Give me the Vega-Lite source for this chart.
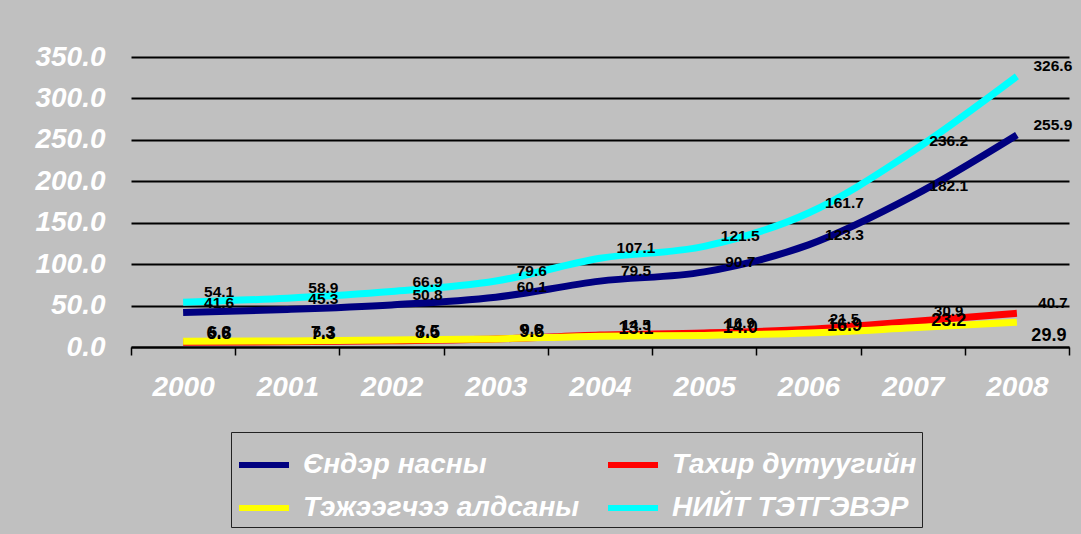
{
  "$schema": "https://vega.github.io/schema/vega-lite/v6.json",
  "width": 938,
  "height": 290,
  "autosize": {"type": "none"},
  "padding": {"left": 131, "top": 57, "right": 12, "bottom": 187},
  "background": "#C0C0C0",
  "config": {
    "view": {"stroke": null},
    "font": "Liberation Sans"
  },
  "data": {
    "values": [
      {"year": "2000", "series": "Єндэр насны", "value": 41.6},
      {"year": "2001", "series": "Єндэр насны", "value": 45.3},
      {"year": "2002", "series": "Єндэр насны", "value": 50.8},
      {"year": "2003", "series": "Єндэр насны", "value": 60.1},
      {"year": "2004", "series": "Єндэр насны", "value": 79.5},
      {"year": "2005", "series": "Єндэр насны", "value": 90.7},
      {"year": "2006", "series": "Єндэр насны", "value": 123.3},
      {"year": "2007", "series": "Єндэр насны", "value": 182.1},
      {"year": "2008", "series": "Єндэр насны", "value": 255.9},
      {"year": "2000", "series": "Тахир дутуугийн", "value": 5.6},
      {"year": "2001", "series": "Тахир дутуугийн", "value": 6.3},
      {"year": "2002", "series": "Тахир дутуугийн", "value": 7.6},
      {"year": "2003", "series": "Тахир дутуугийн", "value": 9.6},
      {"year": "2004", "series": "Тахир дутуугийн", "value": 14.5},
      {"year": "2005", "series": "Тахир дутуугийн", "value": 16.9},
      {"year": "2006", "series": "Тахир дутуугийн", "value": 21.5},
      {"year": "2007", "series": "Тахир дутуугийн", "value": 30.9},
      {"year": "2008", "series": "Тахир дутуугийн", "value": 40.7},
      {"year": "2000", "series": "Тэжээгчээ алдсаны", "value": 6.8},
      {"year": "2001", "series": "Тэжээгчээ алдсаны", "value": 7.3},
      {"year": "2002", "series": "Тэжээгчээ алдсаны", "value": 8.5},
      {"year": "2003", "series": "Тэжээгчээ алдсаны", "value": 9.8},
      {"year": "2004", "series": "Тэжээгчээ алдсаны", "value": 13.1},
      {"year": "2005", "series": "Тэжээгчээ алдсаны", "value": 14.0},
      {"year": "2006", "series": "Тэжээгчээ алдсаны", "value": 16.9},
      {"year": "2007", "series": "Тэжээгчээ алдсаны", "value": 23.2},
      {"year": "2008", "series": "Тэжээгчээ алдсаны", "value": 29.9},
      {"year": "2000", "series": "НИЙТ ТЭТГЭВЭР", "value": 54.1},
      {"year": "2001", "series": "НИЙТ ТЭТГЭВЭР", "value": 58.9},
      {"year": "2002", "series": "НИЙТ ТЭТГЭВЭР", "value": 66.9},
      {"year": "2003", "series": "НИЙТ ТЭТГЭВЭР", "value": 79.6},
      {"year": "2004", "series": "НИЙТ ТЭТГЭВЭР", "value": 107.1},
      {"year": "2005", "series": "НИЙТ ТЭТГЭВЭР", "value": 121.5},
      {"year": "2006", "series": "НИЙТ ТЭТГЭВЭР", "value": 161.7},
      {"year": "2007", "series": "НИЙТ ТЭТГЭВЭР", "value": 236.2},
      {"year": "2008", "series": "НИЙТ ТЭТГЭВЭР", "value": 326.6}
    ]
  },
  "encoding": {
    "x": {
      "field": "year", "type": "ordinal", "title": null,
      "scale": {"paddingInner": 0, "paddingOuter": 0},
      "axis": {
        "labelAngle": 0, "labelFont": "Liberation Sans", "labelFontSize": 28,
        "labelFontWeight": "bold", "labelFontStyle": "italic", "labelColor": "#FFFFFF",
        "labelPadding": 18, "tickBand": "extent", "tickSize": 8, "tickColor": "#000000",
        "tickWidth": 1.5, "domainColor": "#000000", "domainWidth": 2, "grid": false
      }
    },
    "y": {
      "field": "value", "type": "quantitative", "title": null,
      "scale": {"domain": [0, 350], "nice": false},
      "axis": {
        "values": [0, 50, 100, 150, 200, 250, 300, 350], "format": ".1f",
        "labelFont": "Liberation Sans", "labelFontSize": 28, "labelFontWeight": "bold",
        "labelFontStyle": "italic", "labelColor": "#FFFFFF", "labelPadding": 26,
        "ticks": false, "domain": false, "grid": true, "gridColor": "#000000", "gridWidth": 2, "gridOpacity": 1
      }
    }
  },
  "layer": [
    {
      "mark": {"type": "line", "strokeWidth": 7, "interpolate": "monotone"},
      "encoding": {
        "color": {
          "field": "series", "type": "nominal",
          "scale": {
            "domain": ["Єндэр насны", "Тахир дутуугийн", "Тэжээгчээ алдсаны", "НИЙТ ТЭТГЭВЭР"],
            "range": ["#000080", "#FF0000", "#FFFF00", "#00FFFF"]
          },
          "legend": {
            "title": null, "orient": "none", "legendX": 100, "legendY": 375,
            "columns": 2, "direction": "horizontal",
            "symbolType": "stroke", "symbolSize": 2500, "symbolStrokeWidth": 6,
            "labelFont": "Liberation Sans",
            "labelFontSize": 28, "labelFontWeight": "bold", "labelFontStyle": "italic",
            "labelColor": "#FFFFFF", "labelLimit": 500, "labelOffset": 11,
            "rowPadding": 1, "columnPadding": 16, "padding": 5,
            "fillColor": "#C0C0C0", "strokeColor": "#222222"
          }
        },
        "order": {"field": "series"}
      }
    },
    {
      "transform": [{"filter": "datum.series === 'Єндэр насны' || datum.series === 'НИЙТ ТЭТГЭВЭР'"}],
      "mark": {"type": "text", "dx": 36, "dy": -10, "fontSize": 15.5, "fontWeight": "bold", "color": "#000000", "font": "Liberation Sans"},
      "encoding": {
        "text": {"field": "value", "type": "quantitative", "format": ".1f"}
      }
    },
    {
      "transform": [{"filter": "datum.series === 'Тахир дутуугийн'"}],
      "mark": {"type": "text", "dx": 36, "dy": -10, "fontSize": 15, "fontWeight": "bold", "color": "#000000", "font": "Liberation Sans"},
      "encoding": {
        "text": {"field": "value", "type": "quantitative", "format": ".1f"}
      }
    },
    {
      "transform": [{"filter": "datum.series === 'Тэжээгчээ алдсаны' && datum.year !== '2008'"}],
      "mark": {"type": "text", "dx": 36, "dy": -7, "fontSize": 18, "fontWeight": "bold", "color": "#000000", "font": "Liberation Sans"},
      "encoding": {
        "text": {"field": "value", "type": "quantitative", "format": ".1f"}
      }
    },
    {
      "transform": [{"filter": "datum.series === 'Тэжээгчээ алдсаны' && datum.year === '2008'"}],
      "mark": {"type": "text", "dx": 32, "dy": 14, "fontSize": 18, "fontWeight": "bold", "color": "#000000", "font": "Liberation Sans"},
      "encoding": {
        "text": {"field": "value", "type": "quantitative", "format": ".1f"}
      }
    }
  ]
}
